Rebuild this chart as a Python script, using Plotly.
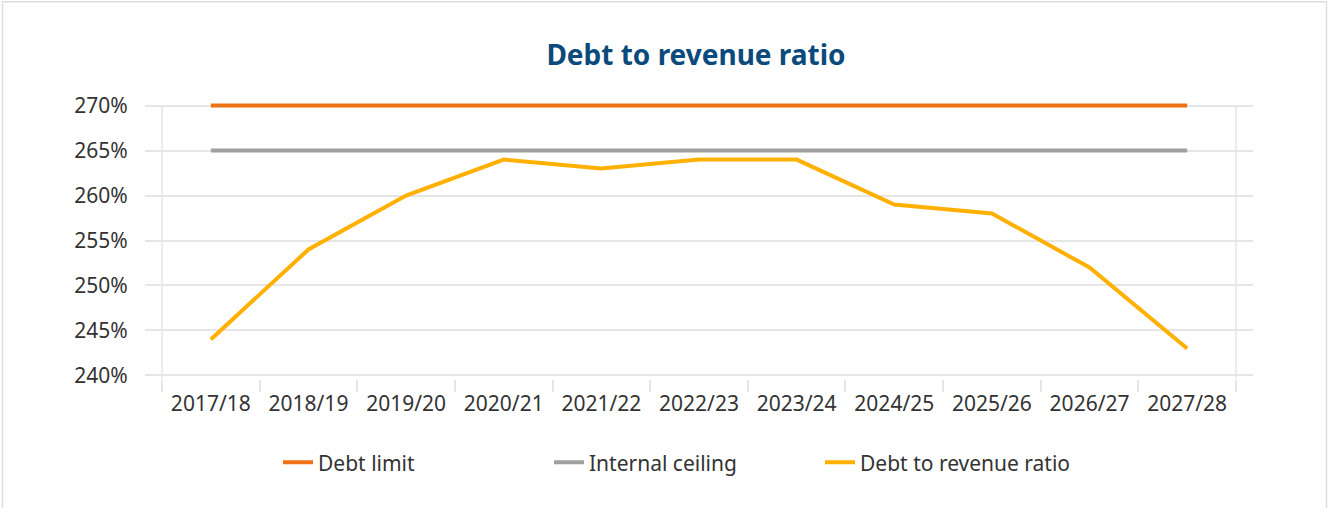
import plotly.graph_objects as go

years = ["2017/18", "2018/19", "2019/20", "2020/21", "2021/22", "2022/23",
         "2023/24", "2024/25", "2025/26", "2026/27", "2027/28"]
debt_limit = [270] * 11
internal_ceiling = [265] * 11
debt_to_revenue = [244, 254, 260, 264, 263, 264, 264, 259, 258, 252, 243]
y_ticks = [240, 245, 250, 255, 260, 265, 270]
y_tick_labels = [f"{v}%" for v in y_ticks]

W, H = 1331, 508
ypad = 0.4
pxu = (375 - 106) / (max(y_ticks) - min(y_ticks))
L, R = 145, 78
T = 106 - ypad * pxu
B = H - 375 - ypad * pxu
n = len(years)
pad = 0.174
ph = H - T - B
pw = W - L - R

fig = go.Figure()
fig.add_trace(go.Scatter(x=years, y=debt_limit, name="Debt limit", mode="lines",
                         line=dict(color="#EF7215", width=4)))
fig.add_trace(go.Scatter(x=years, y=internal_ceiling, name="Internal ceiling", mode="lines",
                         line=dict(color="#A0A0A0", width=4)))
fig.add_trace(go.Scatter(x=years, y=debt_to_revenue, name="Debt to revenue ratio", mode="lines",
                         line=dict(color="#FFB000", width=4)))

grid = "#E6E6E6"
for xv in (-0.5, n - 0.5):
    fig.add_shape(type="line", xref="x", yref="y", x0=xv, x1=xv,
                  y0=min(y_ticks) - ypad, y1=max(y_ticks),
                  line=dict(color=grid, width=1.5), layer="below")
fig.add_shape(type="rect", xref="paper", yref="paper",
              x0=(2.5 - L) / pw, x1=(1326.5 - L) / pw,
              y0=(B - H - 20) / ph, y1=(H - B - 2.5) / ph,
              line=dict(color="#DDDDDD", width=1.5), fillcolor="rgba(0,0,0,0)", layer="below")

font = "Noto Sans"
fig.update_layout(
    width=W, height=H,
    margin=dict(l=L, r=R, t=T, b=B),
    paper_bgcolor="white", plot_bgcolor="white",
    font=dict(family=font, size=20, color="#333333"),
    title=dict(text="<b>Debt to revenue ratio</b>", x=696 / W, xanchor="center",
               y=1 - 55 / H, yanchor="middle", yref="container",
               font=dict(family=font, size=28, color="#0B4A7C")),
    showlegend=True,
    legend=dict(orientation="h", x=(283 - 5 - L) / pw, xanchor="left",
                y=-(462 - (H - B)) / ph, yanchor="middle",
                font=dict(size=21, color="#333333"), traceorder="normal",
                entrywidth=226, entrywidthmode="pixels"),
    xaxis=dict(type="category", range=[-0.5 - pad, n - 0.5 + pad], tickson="boundaries",
               ticks="outside", ticklen=12, tickcolor=grid, tickwidth=1.5,
               ticklabelstandoff=10,
               showgrid=False, zeroline=False, showline=False,
               tickfont=dict(size=21, color="#333333")),
    yaxis=dict(range=[min(y_ticks) - ypad, max(y_ticks) + ypad], tickvals=y_ticks,
               ticktext=y_tick_labels,
               showgrid=True, gridcolor=grid, gridwidth=1.5, zeroline=False, showline=False,
               ticks="outside", ticklen=12, tickcolor="rgba(0,0,0,0)",
               tickfont=dict(size=21, color="#333333")),
)

fig.write_html("out.html")
